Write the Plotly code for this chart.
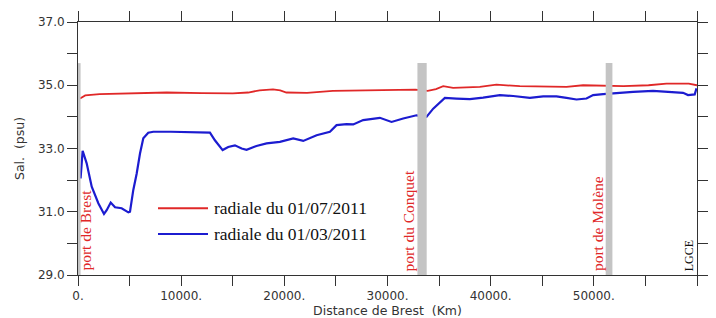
import plotly.graph_objects as go

# Red series: radiale du 01/07/2011
red_x = [200, 700, 2100, 5000, 8600, 12000, 15000, 16500, 17600, 18900, 19600, 20200,
         22200, 24700, 27300, 30000, 32700, 33900, 34700, 35400, 36360, 38950, 40560,
         42820, 47350, 48960, 52870, 55300, 57040, 59200, 59780, 60000]
red_y = [34.58, 34.68, 34.72, 34.74, 34.77, 34.75, 34.74, 34.77, 34.84, 34.87, 34.84, 34.77,
         34.76, 34.82, 34.84, 34.84, 34.86, 34.82, 34.88, 34.97, 34.92, 34.95, 35.02,
         34.97, 34.95, 35.0, 34.97, 35.0, 35.05, 35.05, 35.03, 35.0]

# Blue series: radiale du 01/03/2011
blue_x = [250, 450, 840, 1330, 1970, 2520, 2780, 3170, 3590, 4230, 4880, 5040, 5360, 5690,
          6010, 6330, 6810, 7300, 9000, 11000, 12790, 13270, 14020, 14560, 15210, 15860,
          16340, 17300, 18280, 19570, 20860, 21830, 23130, 24420, 25060, 26030, 26680,
          27640, 29260, 30390, 31520, 32810, 33780, 34430, 35560, 36690, 37980, 39270,
          40890, 42180, 43800, 45090, 46380, 47350, 48320, 49290, 49930, 50900, 52190,
          53810, 55740, 57360, 58650, 59130, 59780, 59950]
blue_y = [32.05, 32.93, 32.53, 31.79, 31.27, 30.93, 31.05, 31.29, 31.14, 31.11, 30.98, 31.0,
          31.69, 32.21, 32.84, 33.32, 33.50, 33.53, 33.53, 33.52, 33.5, 33.26, 32.95, 33.05,
          33.1, 33.0, 32.96, 33.08, 33.16, 33.21, 33.32, 33.24, 33.42, 33.53, 33.74, 33.77,
          33.76, 33.9, 33.97, 33.84, 33.95, 34.05, 34.0, 34.26, 34.6, 34.58, 34.56, 34.61,
          34.69, 34.66, 34.6, 34.65, 34.65, 34.6, 34.55, 34.58, 34.69, 34.72, 34.76,
          34.79, 34.82, 34.79, 34.76, 34.69, 34.71, 34.9]

series_names = ["radiale du 01/07/2011", "radiale du 01/03/2011"]

# Ports (grey bars) : start, end, label, label position
port_x0 = [0, 32900, 51150]
port_x1 = [250, 33800, 51800]
port_top = 35.7
port_labels = ["port de Brest", "port du Conquet", "port de Molène"]
port_label_x = [775, 32070, 50350]

x_tickvals = [0, 5000, 10000, 15000, 20000, 25000, 30000, 35000, 40000, 45000, 50000, 55000, 60000]
x_ticktext = ["0.", "", "10000.", "", "20000.", "", "30000.", "", "40000.", "", "50000.", "", "60000."]
y_tickvals = [29, 30, 31, 32, 33, 34, 35, 36, 37]
y_ticktext = ["29.0", "", "31.0", "", "33.0", "", "35.0", "", "37.0"]

RED = "#e02828"
BLUE = "#1c1cd0"

fig = go.Figure()
fig.add_trace(go.Scatter(x=red_x, y=red_y, mode="lines", name=series_names[0],
                         line=dict(color=RED, width=1.8), showlegend=False))
fig.add_trace(go.Scatter(x=blue_x, y=blue_y, mode="lines", name=series_names[1],
                         line=dict(color=BLUE, width=2.2), showlegend=False))

for x0, x1 in zip(port_x0, port_x1):
    fig.add_shape(type="rect", xref="x", yref="y", x0=x0, x1=x1, y0=29, y1=port_top,
                  fillcolor="#c4c4c4", line=dict(width=0), layer="above")

for lab, lx in zip(port_labels, port_label_x):
    fig.add_annotation(x=lx, y=29.06, xref="x", yref="y", text=lab, textangle=-90,
                       showarrow=False, xanchor="center", yanchor="bottom",
                       font=dict(family="Liberation Serif", size=15.5, color=RED))

fig.add_annotation(x=59200, y=29.06, xref="x", yref="y", text="LGCE", textangle=-90,
                   showarrow=False, xanchor="center", yanchor="bottom",
                   font=dict(family="Liberation Serif", size=12, color="#111111"))

# The page places the figure 8 px from the window's top-left corner.
OFF = 8
W, H = 716 - OFF, 318 - OFF
L, T = 78 - OFF, 22 - OFF
R = W - (697 - OFF)
B = H - (275 - OFF)
pw, ph = W - L - R, H - T - B

# Legend (drawn manually)
legend_rows = [(208.3, RED, series_names[0]), (234.0, BLUE, series_names[1])]
for py, col, name in legend_rows:
    yp = 1 - (py - OFF - T) / ph
    x0p = (158 - OFF - L) / pw
    x1p = (208 - OFF - L) / pw
    fig.add_shape(type="line", xref="paper", yref="paper", x0=x0p, x1=x1p, y0=yp, y1=yp,
                  line=dict(color=col, width=2))
    fig.add_annotation(x=(212 - OFF - L) / pw, y=yp, xref="paper", yref="paper", text=name,
                       showarrow=False, xanchor="left", yanchor="middle",
                       font=dict(family="Liberation Serif", size=17.5, color="#111111"))

axis_common = dict(showline=True, linecolor="#333333", linewidth=1, mirror="ticks",
                   ticks="outside", ticklen=10, tickcolor="#333333", tickwidth=1,
                   showgrid=False, zeroline=False, automargin=False,
                   tickfont=dict(family="DejaVu Sans", size=12, color="#333333"))

fig.update_layout(
    width=W, height=H,
    margin=dict(l=L, r=R, t=T, b=B),
    paper_bgcolor="white", plot_bgcolor="white",
    xaxis=dict(range=[0, 60000], tickmode="array", tickvals=x_tickvals, ticktext=x_ticktext,
               title=dict(text="Distance de Brest  (Km)", standoff=0,
                          font=dict(family="DejaVu Sans", size=12.5, color="#333333")),
               **axis_common),
    yaxis=dict(range=[29, 37], tickmode="array", tickvals=y_tickvals, ticktext=y_ticktext,
               title=dict(text="Sal.  (psu)", standoff=10,
                          font=dict(family="DejaVu Sans", size=12.5, color="#333333")),
               **axis_common),
)

fig.write_html("out.html")
